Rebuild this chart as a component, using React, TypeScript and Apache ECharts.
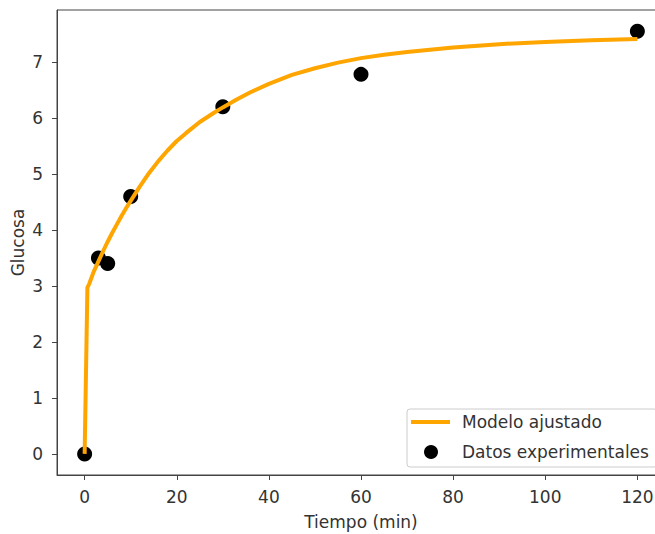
import React, { useEffect, useRef } from "react";
import * as echarts from "echarts";

// Experimental data
const expTime = [0, 3, 5, 10, 30, 60, 120];
const expGlucose = [0, 3.5, 3.4, 4.6, 6.2, 6.78, 7.55];

// Fitted model curve
const modelTime = [0, 0.6, 1, 2, 3, 4, 5, 6, 7, 8, 9, 10, 12, 14, 16, 18, 20, 22, 25, 28, 30, 33, 36, 40, 45, 50, 55, 60, 65, 70, 80, 90, 100, 110, 120];
const modelGlucose = [0, 2.97, 3.04, 3.26, 3.44, 3.62, 3.79, 3.95, 4.1, 4.25, 4.39, 4.52, 4.78, 5.02, 5.23, 5.42, 5.59, 5.73, 5.93, 6.09, 6.19, 6.33, 6.46, 6.61, 6.77, 6.89, 6.99, 7.07, 7.13, 7.18, 7.26, 7.32, 7.36, 7.39, 7.41];

const xTicks = [0, 20, 40, 60, 80, 100, 120];
const yTicks = [0, 1, 2, 3, 4, 5, 6, 7];

const legendNames = ["Modelo ajustado", "Datos experimentales"];
const xName = "Tiempo (min)";
const yName = "Glucosa";

const FONT = "DejaVu Sans";
const FS = 17;
const TXT = "#333";
const AX = "#444";

export default function App() {
  const ref = useRef<HTMLDivElement>(null);
  useEffect(() => {
    document.body.style.margin = "0";
    const chart = echarts.init(ref.current!, null, { renderer: "svg" });
    const option: any = {
      animation: false,
      backgroundColor: "#fff",
      grid: {
        left: 57,
        top: 10,
        width: 608,
        height: 465,
        containLabel: false,
        outerBoundsMode: "none",
        show: true,
        borderColor: AX,
        borderWidth: 1,
        backgroundColor: "transparent",
      },
      xAxis: {
        type: "value",
        min: -6,
        max: 126,
        name: xName,
        nameLocation: "middle",
        nameGap: 38,
        nameMoveOverlap: false,
        nameTextStyle: { fontFamily: FONT, fontSize: FS, color: TXT },
        axisLine: { show: true, onZero: false, lineStyle: { color: AX, width: 1 } },
        axisTick: { show: true, length: 5, customValues: xTicks, lineStyle: { color: AX } },
        axisLabel: { customValues: xTicks, margin: 13, fontFamily: FONT, fontSize: FS, color: TXT },
        splitLine: { show: false },
      },
      yAxis: {
        type: "value",
        min: -0.377,
        max: 7.93,
        name: yName,
        nameLocation: "middle",
        nameGap: 31,
        nameMoveOverlap: false,
        nameRotate: 90,
        nameTextStyle: { fontFamily: FONT, fontSize: FS, color: TXT },
        axisLine: { show: true, onZero: false, lineStyle: { color: AX, width: 1 } },
        axisTick: { show: true, length: 5, customValues: yTicks, lineStyle: { color: AX } },
        axisLabel: { customValues: yTicks, margin: 14, fontFamily: FONT, fontSize: FS, color: TXT },
        splitLine: { show: false },
      },
      series: [
        {
          name: legendNames[1],
          type: "scatter",
          data: expTime.map((t, i) => [t, expGlucose[i]]),
          symbol: "circle",
          symbolSize: 15,
          itemStyle: { color: "#000", opacity: 1 },
          z: 2,
        },
        {
          name: legendNames[0],
          type: "line",
          data: modelTime.map((t, i) => [t, modelGlucose[i]]),
          showSymbol: false,
          symbol: "none",
          lineStyle: { color: "#FFA500", width: 4, join: "round" },
          z: 3,
        },
      ],
      graphic: [
        {
          type: "rect",
          shape: { x: 407, y: 409, width: 250, height: 58, r: 3 },
          style: { fill: "rgba(255,255,255,0.85)", stroke: "#ccc", lineWidth: 1 },
          z: 10,
        },
        {
          type: "line",
          shape: { x1: 411, y1: 422, x2: 450, y2: 422 },
          style: { stroke: "#FFA500", lineWidth: 4 },
          z: 11,
        },
        {
          type: "circle",
          shape: { cx: 431, cy: 452, r: 7 },
          style: { fill: "#000" },
          z: 11,
        },
        {
          type: "text",
          x: 462,
          y: 422,
          style: { text: legendNames[0], fontFamily: FONT, fontSize: FS, fill: TXT, verticalAlign: "middle" },
          z: 11,
        },
        {
          type: "text",
          x: 462,
          y: 452,
          style: { text: legendNames[1], fontFamily: FONT, fontSize: FS, fill: TXT, verticalAlign: "middle" },
          z: 11,
        },
      ],
    };
    chart.setOption(option);
    return () => chart.dispose();
  }, []);
  return (
    <div
      ref={ref}
      style={{ position: "absolute", left: 0, top: 0, width: 655, height: 534 }}
    />
  );
}
